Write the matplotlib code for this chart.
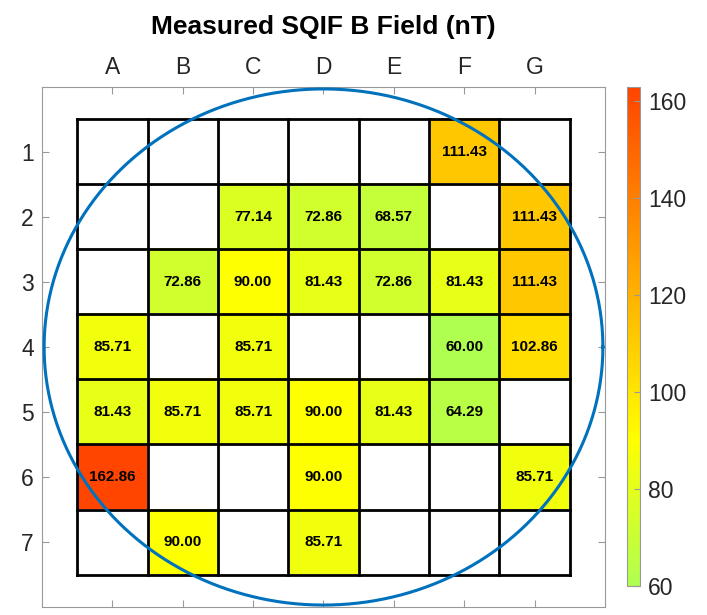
import matplotlib.pyplot as plt
import numpy as np
from matplotlib.colors import LinearSegmentedColormap

plt.rcParams['font.family'] = ['Liberation Sans', 'DejaVu Sans']

cols = ['A', 'B', 'C', 'D', 'E', 'F', 'G']
rows = [1, 2, 3, 4, 5, 6, 7]

# measured field per site (nT), NaN = not measured
nan = np.nan
field = np.array([
    [nan, nan, nan, nan, nan, 111.43, nan],
    [nan, nan, 77.14, 72.86, 68.57, nan, 111.43],
    [nan, 72.86, 90.00, 81.43, 72.86, 81.43, 111.43],
    [85.71, nan, 85.71, nan, nan, 60.00, 102.86],
    [81.43, 85.71, 85.71, 90.00, 81.43, 64.29, nan],
    [162.86, nan, nan, 90.00, nan, nan, 85.71],
    [nan, 90.00, nan, 85.71, nan, nan, nan],
])

vmin, vmax = 60.0, 162.86
# green -> yellow -> orange-red
f_yel = (90.0 - vmin) / (vmax - vmin)
cmap = LinearSegmentedColormap.from_list(
    'gyr', [(0.0, (175/255, 1.0, 80/255)), (f_yel, (1.0, 1.0, 0.0)), (1.0, (1.0, 69/255, 0.0))])
cmap.set_bad('white')

fig = plt.figure(figsize=(7.07, 6.15), dpi=100)
ax = fig.add_axes([42/707, 8/615, 563/707, 520/615])
cax = fig.add_axes([627/707, 29/615, 13/707, 499/615])

data = np.ma.masked_invalid(field)
im = ax.imshow(data, cmap=cmap, vmin=vmin, vmax=vmax, extent=[0.5, 7.5, 7.5, 0.5],
               aspect='auto', interpolation='nearest', zorder=1)

# cell borders
for k in np.arange(0.5, 8.0, 1.0):
    ax.plot([0.5, 7.5], [k, k], color='black', lw=2, zorder=2, solid_capstyle='projecting')
    ax.plot([k, k], [0.5, 7.5], color='black', lw=2, zorder=2, solid_capstyle='projecting')

for i in range(field.shape[0]):
    for j in range(field.shape[1]):
        if not np.isnan(field[i, j]):
            ax.text(j + 1, i + 1, f'{field[i, j]:.2f}', ha='center', va='center',
                    fontsize=11, fontweight='bold', color='black', zorder=3)

# wafer outline
t = np.linspace(0, 2 * np.pi, 400)
ax.plot(4 + 3.97 * np.cos(t), 4 + 3.97 * np.sin(t), color='#0072BD', lw=2.2, zorder=4)

ax.set_xlim(0, 8)
ax.set_ylim(8, 0)
ax.set_xticks(range(1, 8))
ax.set_xticklabels(cols)
ax.set_yticks(rows)
ax.xaxis.tick_top()
ax.tick_params(direction='in', top=True, bottom=True, left=True, right=True,
               labeltop=True, labelbottom=False, labelsize=16.5, colors='#999999',
               labelcolor='#262626', length=5, pad=6)
for s in ax.spines.values():
    s.set_color('#999999')
    s.set_linewidth(0.8)

ax.set_title('Measured SQIF B Field (nT)', fontsize=19, fontweight='bold', pad=38)

cb = fig.colorbar(im, cax=cax, ticks=[60, 80, 100, 120, 140, 160])
cb.outline.set_edgecolor('#999999')
cax.tick_params(direction='in', labelsize=16.5, colors='#999999', labelcolor='#262626',
                length=4, pad=6)

plt.savefig('out.png', dpi=100)
